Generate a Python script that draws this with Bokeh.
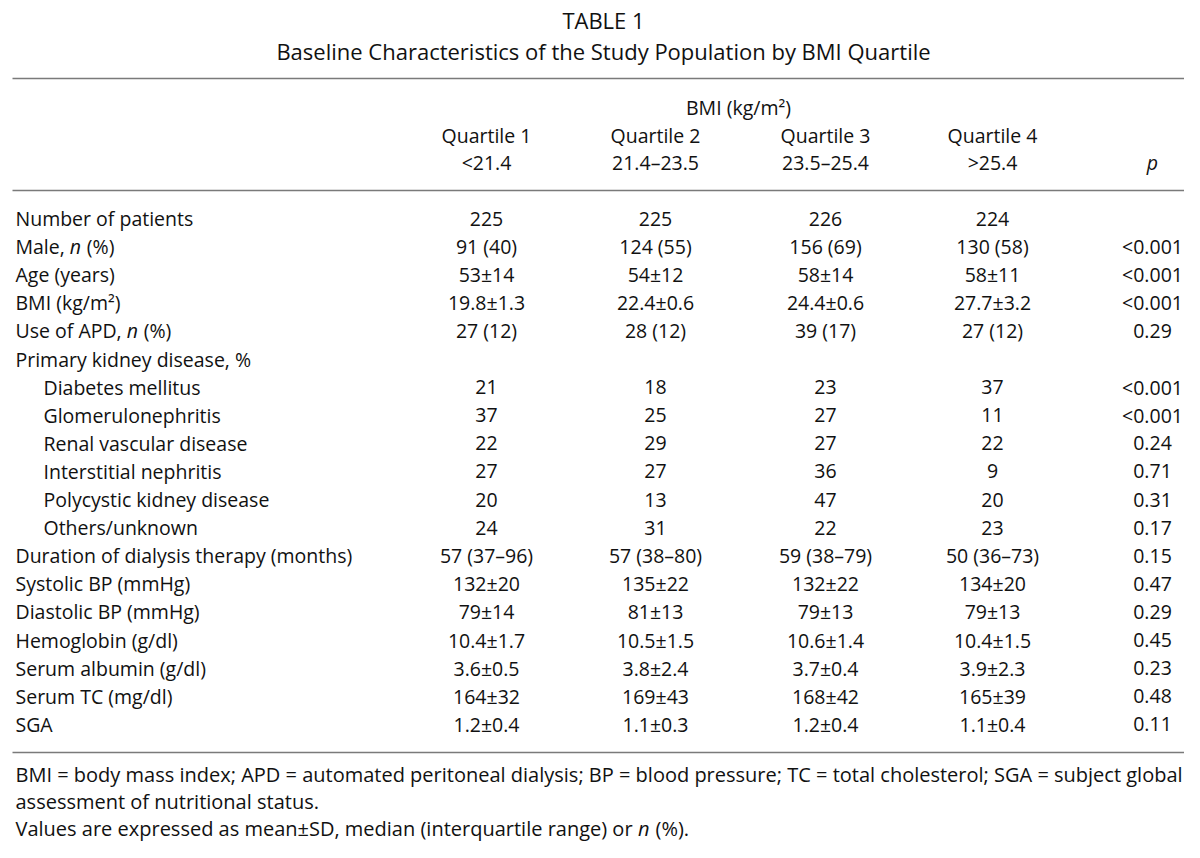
from bokeh.plotting import figure
from bokeh.models import ColumnDataSource, Range1d
from bokeh.core.properties import value
from bokeh.embed import file_html
from bokeh.resources import INLINE

# ---------------- data ----------------
title_line1 = "TABLE 1"
title_line2 = "Baseline Characteristics of the Study Population by BMI Quartile"
group_header = "BMI (kg/m²)"
quartile_names = ["Quartile 1", "Quartile 2", "Quartile 3", "Quartile 4"]
quartile_ranges = ["<21.4", "21.4–23.5", "23.5–25.4", ">25.4"]
p_header = "p"

row_labels = [
    "Number of patients", "Male, |n| (%)", "Age (years)", "BMI (kg/m²)",
    "Use of APD, |n| (%)", "Primary kidney disease, %", "Diabetes mellitus",
    "Glomerulonephritis", "Renal vascular disease", "Interstitial nephritis",
    "Polycystic kidney disease", "Others/unknown",
    "Duration of dialysis therapy (months)", "Systolic BP (mmHg)",
    "Diastolic BP (mmHg)", "Hemoglobin (g/dl)", "Serum albumin (g/dl)",
    "Serum TC (mg/dl)", "SGA",
]
row_indented = [False, False, False, False, False, False, True, True, True,
                True, True, True, False, False, False, False, False, False, False]
q1 = ["225", "91 (40)", "53±14", "19.8±1.3", "27 (12)", "", "21", "37", "22", "27",
      "20", "24", "57 (37–96)", "132±20", "79±14", "10.4±1.7", "3.6±0.5", "164±32", "1.2±0.4"]
q2 = ["225", "124 (55)", "54±12", "22.4±0.6", "28 (12)", "", "18", "25", "29", "27",
      "13", "31", "57 (38–80)", "135±22", "81±13", "10.5±1.5", "3.8±2.4", "169±43", "1.1±0.3"]
q3 = ["226", "156 (69)", "58±14", "24.4±0.6", "39 (17)", "", "23", "27", "27", "36",
      "47", "22", "59 (38–79)", "132±22", "79±13", "10.6±1.4", "3.7±0.4", "168±42", "1.2±0.4"]
q4 = ["224", "130 (58)", "58±11", "27.7±3.2", "27 (12)", "", "37", "11", "22", "9",
      "20", "23", "50 (36–73)", "134±20", "79±13", "10.4±1.5", "3.9±2.3", "165±39", "1.1±0.4"]
p_values = ["", "<0.001", "<0.001", "<0.001", "0.29", "", "<0.001", "<0.001", "0.24",
            "0.71", "0.31", "0.17", "0.15", "0.47", "0.29", "0.45", "0.23", "0.48", "0.11"]

footnotes = [
    "BMI = body mass index; APD = automated peritoneal dialysis; BP = blood pressure; TC = total cholesterol; SGA = subject global",
    "assessment of nutritional status.",
    "Values are expressed as mean±SD, median (interquartile range) or |n| (%).",
]

# ---------------- layout ----------------
FONT = value("Open Sans")
FS = 19.5
COLOR = "#111111"
RULE = "#7a7a7a"

col_x = [486, 655, 825, 992]
p_x = 1152
label_x = 15
indent_x = 43
row_y0 = 218
row_h = 28.1

W, H = 1184, 842
p = figure(width=W, height=H, output_backend="svg", toolbar_location=None,
           x_range=Range1d(0, W), y_range=Range1d(H, 0),
           min_border=0, outline_line_color=None, background_fill_color="white",
           border_fill_color="white")
p.axis.visible = False
p.grid.visible = False

# approximate Open Sans advance widths (em)
CW = {' ': .26, 'a': .556, 'b': .613, 'c': .476, 'd': .613, 'e': .561, 'f': .339, 'g': .548,
      'h': .614, 'i': .253, 'j': .253, 'k': .525, 'l': .253, 'm': .93, 'n': .614, 'o': .604,
      'p': .613, 'q': .613, 'r': .408, 's': .477, 't': .353, 'u': .614, 'v': .501, 'w': .778,
      'x': .524, 'y': .502, 'z': .477, 'A': .633, 'B': .648, 'C': .631, 'D': .729, 'E': .556,
      'F': .516, 'G': .728, 'H': .738, 'I': .279, 'L': .519, 'M': .903, 'N': .754, 'O': .779,
      'P': .602, 'Q': .779, 'R': .618, 'S': .549, 'T': .553, 'U': .728, 'V': .593,
      '(': .296, ')': .296, '%': .846, ',': .25, '.': .266, '±': .572, '=': .572, ';': .266,
      '/': .362, '<': .572, '>': .572, '–': .5}


def tw(s, size):
    return sum(CW.get(ch, .572) for ch in s) * size


def mixed(x, y, s, size):
    """Segments separated by | alternate normal / italic."""
    parts = s.split("|")
    xs, ys, ts, styles = [], [], [], []
    cx = x
    for k, part in enumerate(parts):
        if not part:
            continue
        lead = len(part) - len(part.lstrip(" "))
        xs.append(cx + tw(" " * lead, size)); ys.append(y); ts.append(part.strip(" "))
        styles.append("italic" if k % 2 else "normal")
        cx += tw(part, size)
    for st in ("normal", "italic"):
        idx = [i for i, v in enumerate(styles) if v == st]
        if idx:
            p.text(x=[xs[i] for i in idx], y=[ys[i] for i in idx], text=[ts[i] for i in idx],
                   text_font=FONT, text_font_size=f"{size}px", text_font_style=st,
                   text_color=COLOR, text_align="left", text_baseline="middle")


# titles
p.text(x=[603, 603], y=[19, 50], text=[title_line1, title_line2], text_font=FONT,
       text_font_size="22px", text_color=COLOR, text_align="center", text_baseline="middle")

# rules
p.segment(x0=[12, 12, 12], x1=[1184, 1184, 1184], y0=[78, 190, 752], y1=[78, 190, 752],
          line_color=RULE, line_width=1.5)

# header
p.text(x=[738], y=[107], text=[group_header], text_font=FONT, text_font_size=f"{FS}px",
       text_color=COLOR, text_align="center", text_baseline="middle")
p.text(x=col_x, y=[135] * 4, text=quartile_names, text_font=FONT, text_font_size=f"{FS}px",
       text_color=COLOR, text_align="center", text_baseline="middle")
p.text(x=col_x, y=[162] * 4, text=quartile_ranges, text_font=FONT, text_font_size=f"{FS}px",
       text_color=COLOR, text_align="center", text_baseline="middle")
p.text(x=[p_x], y=[162], text=[p_header], text_font=FONT, text_font_size=f"{FS}px",
       text_font_style="italic", text_color=COLOR, text_align="center", text_baseline="middle")

# body
row_ys = [row_y0 + i * row_h for i in range(len(row_labels))]
for lab, ind, y in zip(row_labels, row_indented, row_ys):
    mixed(indent_x if ind else label_x, y, lab, FS)

for cx, vals in zip(col_x + [p_x], [q1, q2, q3, q4, p_values]):
    src = ColumnDataSource(dict(x=[cx] * len(vals), y=row_ys, t=vals))
    p.text(x="x", y="y", text="t", source=src, text_font=FONT, text_font_size=f"{FS}px",
           text_color=COLOR, text_align="center", text_baseline="middle")

# footnotes
for k, line in enumerate(footnotes):
    mixed(label_x, 774 + k * 27.2, line, 20)

open("out.html", "w").write(file_html(p, INLINE))
